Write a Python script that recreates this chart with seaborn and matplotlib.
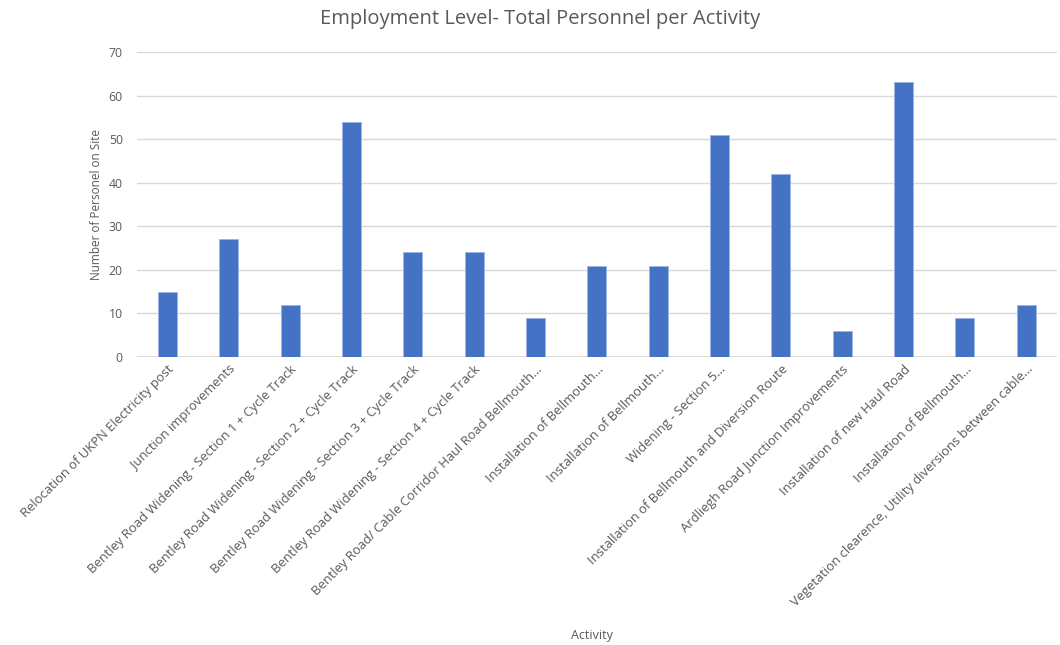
import matplotlib
matplotlib.use("Agg")
import matplotlib.pyplot as plt
import seaborn as sns
import pandas as pd

activities = [
    "Relocation of UKPN Electricity post",
    "Junction improvements",
    "Bentley Road Widening - Section 1 + Cycle Track",
    "Bentley Road Widening - Section 2 + Cycle Track",
    "Bentley Road Widening - Section 3 + Cycle Track",
    "Bentley Road Widening - Section 4 + Cycle Track",
    "Bentley Road/ Cable Corridor Haul Road Bellmouth…",
    "Installation of Bellmouth…",
    "Installation of Bellmouth…",
    "Widening - Section 5…",
    "Installation of Bellmouth and Diversion Route",
    "Ardliegh Road Junction Improvements",
    "Installation of new Haul Road",
    "Installation of Bellmouth…",
    "Vegetation clearence, Utility diversions between cable…",
]
personnel = [15, 27, 12, 54, 24, 24, 9, 21, 21, 51, 42, 6, 63, 9, 12]
y_ticks = [0, 10, 20, 30, 40, 50, 60, 70]

sns.set_theme(style="white")
plt.rcParams['font.family'] = ['Open Sans', 'DejaVu Sans']
text_col = "#595959"

df = pd.DataFrame({"idx": range(len(activities)), "val": personnel})

fig = plt.figure(figsize=(10.6, 6.45), dpi=100)
ax = fig.add_axes([0.129, 0.4465, 0.868, 0.4729])
sns.barplot(data=df, x="idx", y="val", color="#4472C4", saturation=1,
            width=0.31, ax=ax, edgecolor="#9DB5E3", linewidth=0.6)

ax.set_ylim(0, 70)
ax.set_yticks(y_ticks)
ax.set_yticklabels([str(t) for t in y_ticks], fontsize=8.8, color=text_col)
ax.yaxis.grid(True, color="#D9D9D9", linewidth=1)
ax.set_axisbelow(True)
ax.set_xticks(range(len(activities)))
ax.set_xticklabels(activities, rotation=45, ha="right", rotation_mode="anchor",
                   fontsize=9.4, color=text_col)
ax.tick_params(axis="y", length=0, pad=10)
ax.tick_params(axis="x", length=0, pad=4)
for s in ax.spines.values():
    s.set_visible(False)
ax.axhline(0, color="#D9D9D9", linewidth=1.2, zorder=0)

ax.set_ylabel("Number of Personel on Site", fontsize=8.5, color=text_col, labelpad=4)
ax.set_xlabel("")
fig.text(0.558, 0.005, "Activity", ha="center", va="bottom", fontsize=9, color=text_col)
fig.text(0.510, 0.955, "Employment Level- Total Personnel per Activity", ha="center",
         va="bottom", fontsize=14.5, color=text_col)

fig.savefig("out.png", dpi=100, facecolor="white")
